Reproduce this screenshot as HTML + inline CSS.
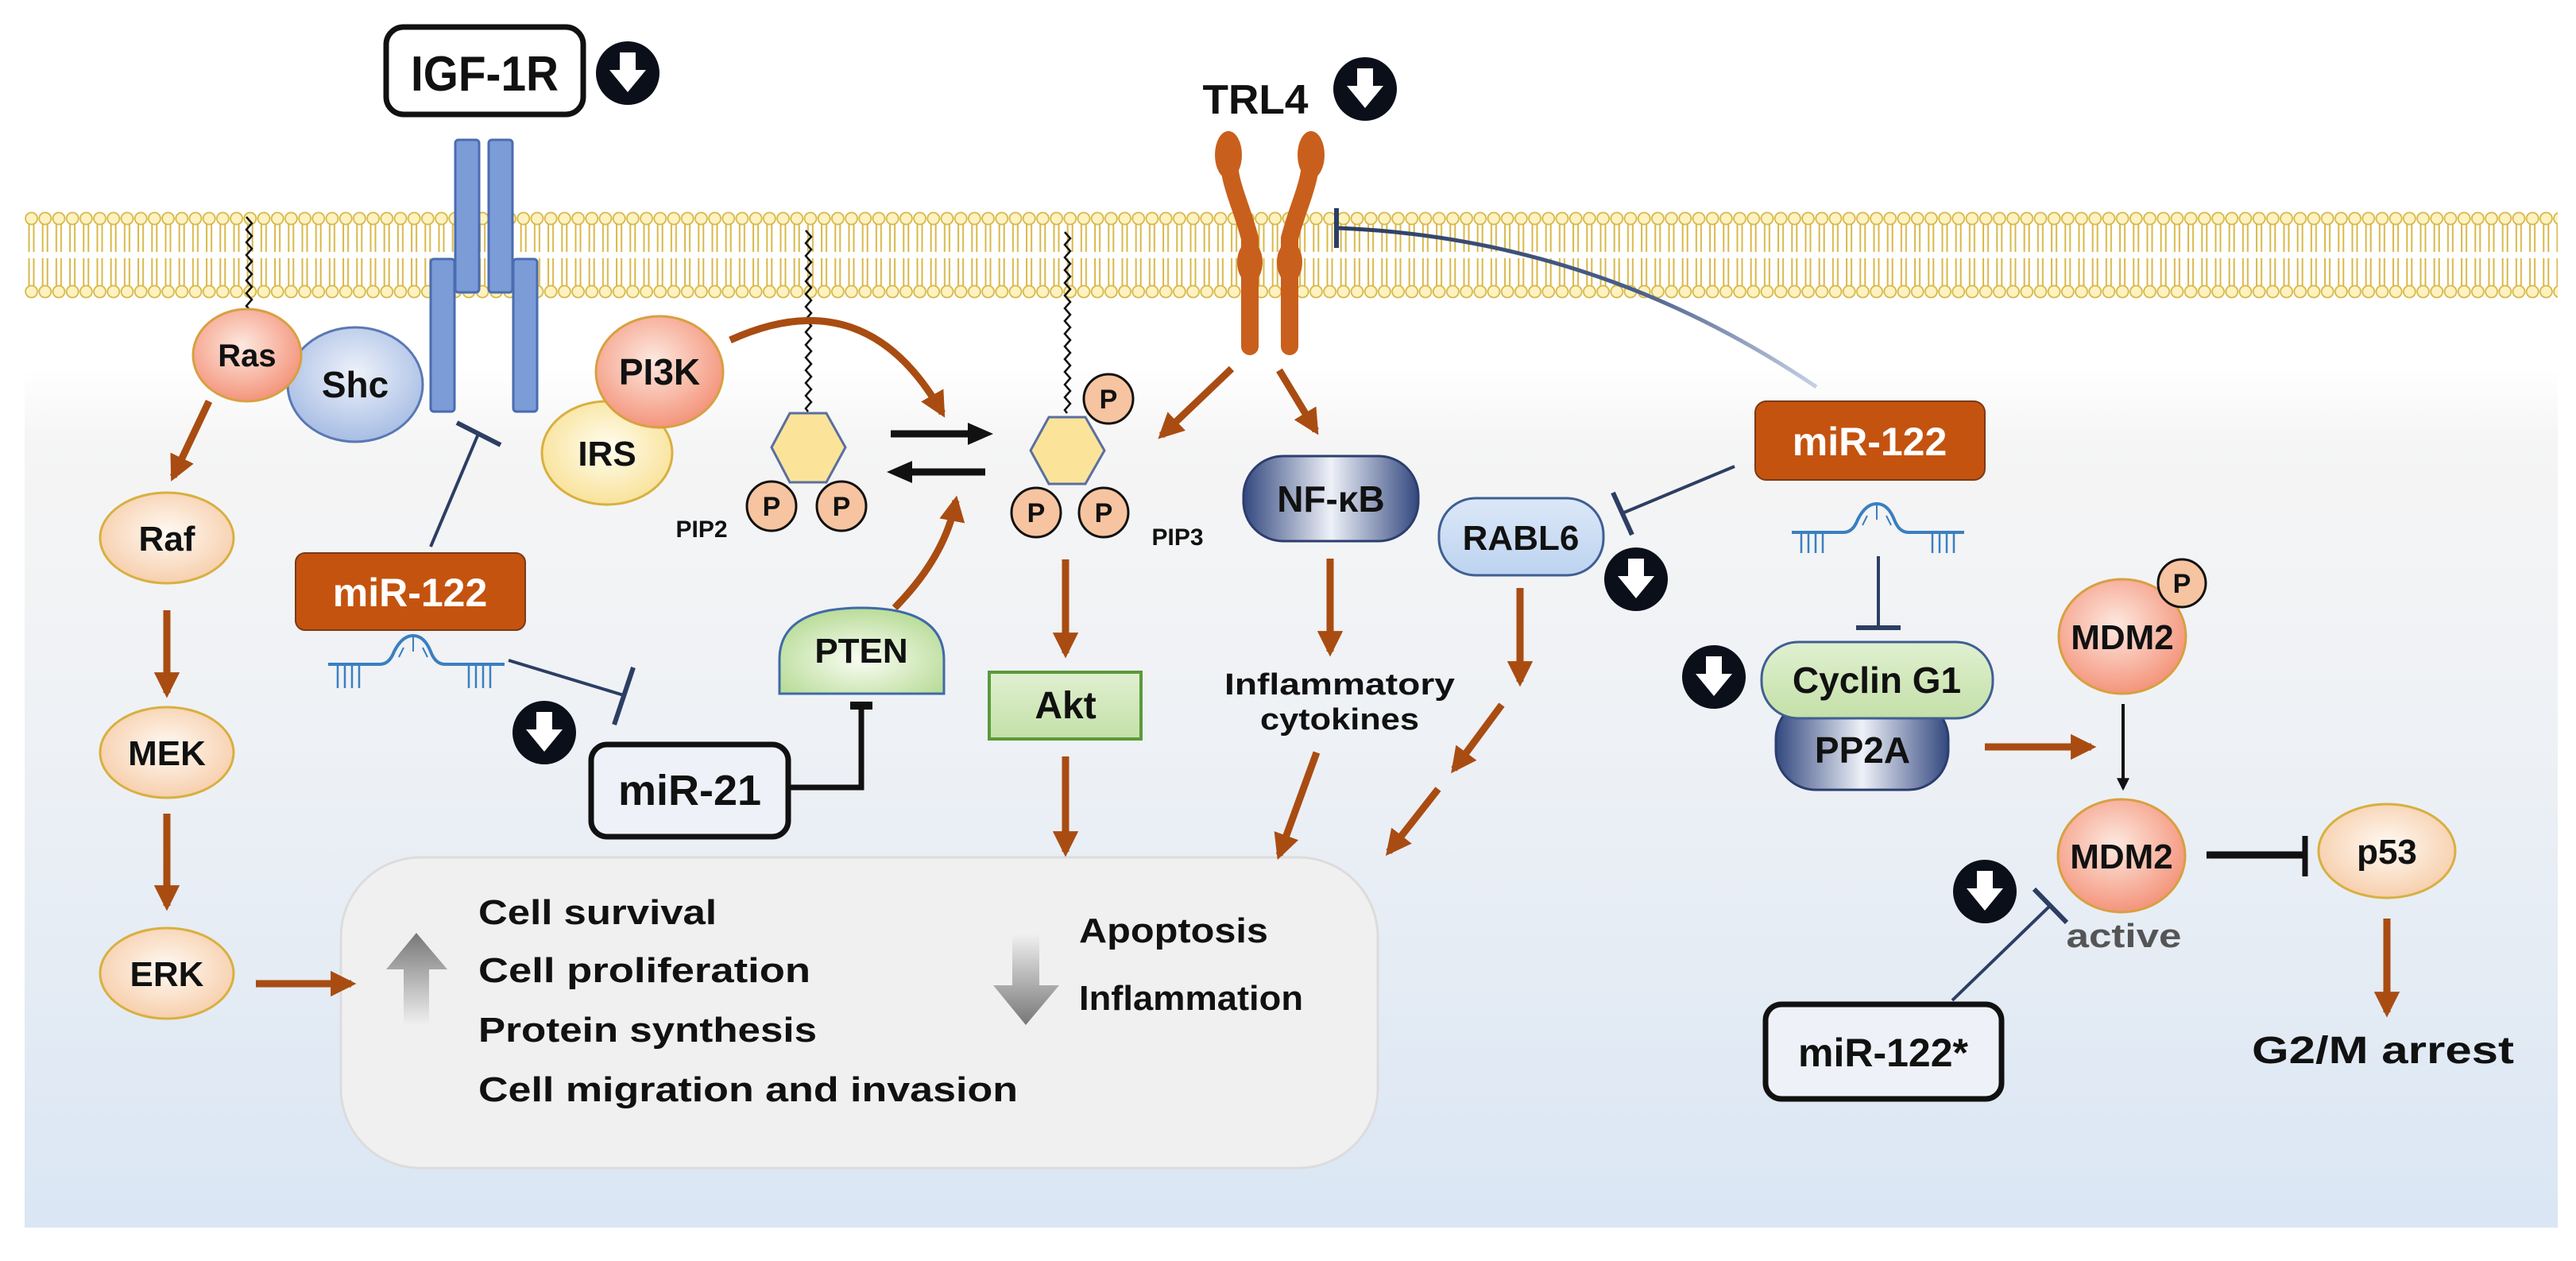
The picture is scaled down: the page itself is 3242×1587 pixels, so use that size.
<!DOCTYPE html>
<html><head><meta charset="utf-8"><style>
html,body{margin:0;padding:0;background:#fff}
svg{display:block}
text{font-family:"Liberation Sans",sans-serif;font-weight:bold;fill:#111}
</style></head><body>
<svg width="3242" height="1587" viewBox="0 0 3242 1587" xmlns="http://www.w3.org/2000/svg">
<defs>
<linearGradient id="bg" x1="0" y1="0" x2="0" y2="1">
<stop offset="0" stop-color="#fff"/><stop offset="0.3" stop-color="#fff"/><stop offset="0.36" stop-color="#f5f5f5"/><stop offset="0.6" stop-color="#eef1f5"/><stop offset="1" stop-color="#dae6f4"/></linearGradient>
<pattern id="lip" patternUnits="userSpaceOnUse" x="31" y="265" width="17.2" height="112">
<line x1="5.5" y1="17" x2="5.5" y2="52" stroke="#d8b848" stroke-width="2"/><line x1="11.5" y1="17" x2="11.5" y2="52" stroke="#d8b848" stroke-width="2"/>
<line x1="5.5" y1="60" x2="5.5" y2="95" stroke="#d8b848" stroke-width="2"/><line x1="11.5" y1="60" x2="11.5" y2="95" stroke="#d8b848" stroke-width="2"/>
<circle cx="8.6" cy="10" r="7.5" fill="#fdf2c0" stroke="#d8b848" stroke-width="1.8"/>
<circle cx="8.6" cy="102" r="7.5" fill="#fdf2c0" stroke="#d8b848" stroke-width="1.8"/>
</pattern>
<radialGradient id="salmon" cx="0.45" cy="0.4" r="0.6"><stop offset="0" stop-color="#fde9e0"/><stop offset="1" stop-color="#f4957c"/></radialGradient>
<radialGradient id="peach" cx="0.5" cy="0.45" r="0.6"><stop offset="0" stop-color="#fffaf4"/><stop offset="1" stop-color="#f6cba6"/></radialGradient>
<radialGradient id="blue" cx="0.5" cy="0.4" r="0.6"><stop offset="0" stop-color="#eef2fa"/><stop offset="1" stop-color="#a7bde4"/></radialGradient>
<radialGradient id="yel" cx="0.5" cy="0.45" r="0.6"><stop offset="0" stop-color="#fffdf0"/><stop offset="1" stop-color="#f8e092"/></radialGradient>
<linearGradient id="dblue" x1="0" y1="0" x2="1" y2="0"><stop offset="0" stop-color="#33487f"/><stop offset="0.5" stop-color="#eef1f8"/><stop offset="1" stop-color="#33487f"/></linearGradient>
<linearGradient id="lblue" x1="0" y1="0" x2="0" y2="1"><stop offset="0" stop-color="#dce8f8"/><stop offset="1" stop-color="#bcd3f0"/></linearGradient>
<linearGradient id="lgreen" x1="0" y1="0" x2="0" y2="1"><stop offset="0" stop-color="#e0f0d0"/><stop offset="1" stop-color="#c4e0a8"/></linearGradient>
<radialGradient id="pten" cx="0.5" cy="0.6" r="0.6"><stop offset="0" stop-color="#fafdf5"/><stop offset="1" stop-color="#b9dc98"/></radialGradient>
<linearGradient id="upg" x1="0" y1="0" x2="0" y2="1"><stop offset="0" stop-color="#777"/><stop offset="1" stop-color="#777" stop-opacity="0"/></linearGradient>
<linearGradient id="dng" x1="0" y1="1" x2="0" y2="0"><stop offset="0" stop-color="#777"/><stop offset="1" stop-color="#777" stop-opacity="0"/></linearGradient>
<linearGradient id="inhg" gradientUnits="userSpaceOnUse" x1="1690" y1="290" x2="2290" y2="490"><stop offset="0" stop-color="#2c3e63"/><stop offset="0.6" stop-color="#4a5f8a"/><stop offset="1" stop-color="#c8d3e6"/></linearGradient>
<marker id="ah" viewBox="0 0 10 10" refX="8" refY="5" markerWidth="3.6" markerHeight="3.6" orient="auto"><path d="M0,0 L10,5 L0,10 z" fill="#a94c12"/></marker>
<marker id="ahk" viewBox="0 0 10 10" refX="8" refY="5" markerWidth="4" markerHeight="4" orient="auto"><path d="M0,0 L10,5 L0,10 z" fill="#111"/></marker>
<g id="dn"><circle r="40" fill="#0b0f1a"/><path d="M-10,-26 h20 v22 h13 l-23,28 l-23,-28 h13z" fill="#fff"/></g>
</defs>

<rect x="31" y="0" width="3188" height="1545" fill="url(#bg)"/>
<rect x="31" y="265" width="3188" height="112" fill="url(#lip)"/>

<rect x="429" y="1079" width="1305" height="391" rx="100" fill="#f0f0f0" stroke="#dcdcdc" stroke-width="3"/>

<rect x="486" y="34" width="248" height="110" rx="22" fill="#fff" stroke="#111" stroke-width="7"/>
<text x="610" y="114" font-size="62" text-anchor="middle" textLength="186" lengthAdjust="spacingAndGlyphs">IGF-1R</text>
<use href="#dn" x="790" y="92"/>
<g fill="#7c9cd8" stroke="#4a6cb0" stroke-width="3">
<rect x="573" y="176" width="30" height="192" rx="4"/><rect x="615" y="176" width="30" height="192" rx="4"/>
<rect x="542" y="326" width="30" height="192" rx="4"/><rect x="646" y="326" width="30" height="192" rx="4"/>
</g>

<text x="1580" y="143" font-size="52" text-anchor="middle" textLength="133" lengthAdjust="spacingAndGlyphs">TRL4</text>
<use href="#dn" x="1718" y="112"/>
<g fill="none" stroke="#c95f1c" stroke-linecap="round">
<path d="M1546,182 C1544,230 1560,250 1573,300 L1573,436" stroke-width="22"/>
<path d="M1650,182 C1652,230 1636,250 1623,300 L1623,436" stroke-width="22"/>
</g>
<g fill="#c95f1c"><ellipse cx="1546" cy="195" rx="17" ry="30"/><ellipse cx="1650" cy="195" rx="17" ry="30"/><ellipse cx="1573" cy="330" rx="16" ry="26"/><ellipse cx="1623" cy="330" rx="16" ry="26"/></g>

<g fill="none" stroke="#111" stroke-width="2.5">
<path d="M310,273 l7,8 l-7,8 l7,8 l-7,8 l7,8 l-7,8 l7,8 l-7,8 l7,8 l-7,8 l7,8 l-7,8 l7,8 l-7,8 l7,8"/>
<path d="M1014,290 l7,8 l-7,8 l7,8 l-7,8 l7,8 l-7,8 l7,8 l-7,8 l7,8 l-7,8 l7,8 l-7,8 l7,8 l-7,8 l7,8 l-7,8 l7,8 l-7,8 l7,8 l-7,8 l7,8 l-7,8 l7,8 l-7,8 l7,8 l-7,8 l7,8 l-7,8 l3,4"/>
<path d="M1340,292 l7,8 l-7,8 l7,8 l-7,8 l7,8 l-7,8 l7,8 l-7,8 l7,8 l-7,8 l7,8 l-7,8 l7,8 l-7,8 l7,8 l-7,8 l7,8 l-7,8 l7,8 l-7,8 l7,8 l-7,8 l7,8 l-7,8 l7,8 l-7,8 l7,8 l-7,8 l3,4"/>
</g>

<ellipse cx="447" cy="484" rx="85" ry="72" fill="url(#blue)" stroke="#5a78b4" stroke-width="3"/>
<text x="447" y="500" font-size="46" text-anchor="middle">Shc</text>
<ellipse cx="311" cy="447" rx="68" ry="58" fill="url(#salmon)" stroke="#d8a040" stroke-width="3"/>
<text x="311" y="461" font-size="40" text-anchor="middle">Ras</text>

<g stroke="#a94c12" stroke-width="9" fill="none" marker-end="url(#ah)">
<line x1="263" y1="505" x2="218" y2="600"/>
<line x1="210" y1="768" x2="210" y2="872"/>
<line x1="210" y1="1024" x2="210" y2="1140"/>
<line x1="322" y1="1238" x2="442" y2="1238"/>
</g>
<g stroke="#d8b040" stroke-width="3">
<ellipse cx="210" cy="677" rx="84" ry="57" fill="url(#peach)"/>
<ellipse cx="210" cy="947" rx="84" ry="57" fill="url(#peach)"/>
<ellipse cx="210" cy="1225" rx="84" ry="57" fill="url(#peach)"/>
</g>
<text x="210" y="693" font-size="44" text-anchor="middle">Raf</text>
<text x="210" y="963" font-size="44" text-anchor="middle">MEK</text>
<text x="210" y="1241" font-size="44" text-anchor="middle">ERK</text>

<line x1="542" y1="688" x2="602" y2="546" stroke="#2c3e63" stroke-width="4"/>
<line x1="575" y1="532" x2="630" y2="560" stroke="#2c3e63" stroke-width="6"/>
<rect x="372" y="696" width="289" height="97" rx="12" fill="#c4530f" stroke="#7a3a18" stroke-width="2"/>
<text x="516" y="763" font-size="50" text-anchor="middle" style="fill:#fff">miR-122</text>
<g stroke="#3a7fc0" stroke-width="4" fill="none">
<path d="M413,836 H478 Q490,836 496,820 Q506,800 520,800 Q534,800 542,820 Q548,836 560,836 H635"/>
<path d="M425,836 v30 M434,836 v30 M443,836 v30 M452,836 v30 M590,836 v30 M599,836 v30 M608,836 v30 M617,836 v30" stroke-width="2.5"/>
<path d="M520,802 v18 M508,815 l-6,12 M532,815 l6,12" stroke-width="2"/>
</g>
<line x1="640" y1="831" x2="785" y2="875" stroke="#2c3e63" stroke-width="4"/>
<line x1="797" y1="840" x2="773" y2="912" stroke="#2c3e63" stroke-width="6"/>
<use href="#dn" x="685" y="922"/>
<rect x="744" y="937" width="248" height="116" rx="20" fill="#eef2f8" stroke="#111" stroke-width="7"/>
<text x="868" y="1013" font-size="54" text-anchor="middle">miR-21</text>
<path d="M992,991 H1084 V890" fill="none" stroke="#111" stroke-width="7"/>
<line x1="1070" y1="888" x2="1098" y2="888" stroke="#111" stroke-width="10"/>

<ellipse cx="764" cy="570" rx="82" ry="65" fill="url(#yel)" stroke="#d8b040" stroke-width="3"/>
<text x="764" y="586" font-size="44" text-anchor="middle">IRS</text>
<ellipse cx="830" cy="468" rx="80" ry="70" fill="url(#salmon)" stroke="#d8a040" stroke-width="3"/>
<text x="830" y="484" font-size="46" text-anchor="middle">PI3K</text>
<path d="M919,428 Q1090,350 1186,520" fill="none" stroke="#a94c12" stroke-width="9" marker-end="url(#ah)"/>

<polygon points="971,563 994,520 1040,520 1064,563 1040,607 994,607" fill="#fbe49a" stroke="#5a6fa0" stroke-width="3"/>
<polygon points="1297,567 1320,525 1366,525 1390,567 1366,609 1320,609" fill="#fbe49a" stroke="#5a6fa0" stroke-width="3"/>
<g fill="#f6c4a0" stroke="#111" stroke-width="3">
<circle cx="971" cy="637" r="31"/><circle cx="1059" cy="637" r="31"/>
<circle cx="1304" cy="645" r="31"/><circle cx="1389" cy="645" r="31"/><circle cx="1395" cy="502" r="31"/>
</g>
<g font-size="34" text-anchor="middle">
<text x="971" y="649">P</text><text x="1059" y="649">P</text><text x="1304" y="657">P</text><text x="1389" y="657">P</text><text x="1395" y="514">P</text>
</g>
<text x="883" y="676" font-size="30" text-anchor="middle">PIP2</text>
<text x="1482" y="686" font-size="30" text-anchor="middle">PIP3</text>
<g stroke="#111" stroke-width="9" fill="#111">
<line x1="1121" y1="546" x2="1222" y2="546"/><polygon points="1218,532 1250,546 1218,560" stroke="none"/>
<line x1="1146" y1="594" x2="1240" y2="594"/><polygon points="1148,580 1116,594 1148,608" stroke="none"/>
</g>
<path d="M1126,765 Q1190,700 1203,630" fill="none" stroke="#a94c12" stroke-width="9" marker-end="url(#ah)"/>

<path d="M981,873 V830 Q981,765 1084,765 Q1188,765 1188,830 V873 Z" fill="url(#pten)" stroke="#3f6aa8" stroke-width="3"/>
<text x="1084" y="834" font-size="44" text-anchor="middle">PTEN</text>
<rect x="1245" y="846" width="191" height="84" fill="url(#lgreen)" stroke="#5a9a3a" stroke-width="4"/>
<text x="1341" y="904" font-size="48" text-anchor="middle">Akt</text>
<g stroke="#a94c12" stroke-width="9" fill="none" marker-end="url(#ah)">
<line x1="1341" y1="704" x2="1341" y2="822"/>
<line x1="1341" y1="952" x2="1341" y2="1072"/>
<line x1="1550" y1="464" x2="1462" y2="548"/>
<line x1="1610" y1="466" x2="1656" y2="542"/>
<line x1="1674" y1="703" x2="1674" y2="820"/>
<line x1="1913" y1="740" x2="1913" y2="858"/>
<line x1="1890" y1="887" x2="1830" y2="968"/>
<line x1="1810" y1="993" x2="1748" y2="1072"/>
<line x1="1657" y1="947" x2="1610" y2="1076"/>
<line x1="2498" y1="940" x2="2632" y2="940"/>
<line x1="3004" y1="1156" x2="3004" y2="1274"/>
</g>

<rect x="1565" y="574" width="220" height="107" rx="50" fill="url(#dblue)" stroke="#2c3e6e" stroke-width="3"/>
<text x="1675" y="644" font-size="46" text-anchor="middle">NF-κB</text>
<rect x="1811" y="627" width="207" height="97" rx="46" fill="url(#lblue)" stroke="#3f5f92" stroke-width="3"/>
<text x="1914" y="692" font-size="44" text-anchor="middle">RABL6</text>
<use href="#dn" x="2059" y="729"/>
<text x="1686" y="874" font-size="38" text-anchor="middle" textLength="290" lengthAdjust="spacingAndGlyphs">Inflammatory</text>
<text x="1686" y="918" font-size="38" text-anchor="middle" textLength="200" lengthAdjust="spacingAndGlyphs">cytokines</text>

<path d="M2286,487 Q2010,300 1684,287" fill="none" stroke="url(#inhg)" stroke-width="5"/>
<line x1="1682" y1="262" x2="1682" y2="312" stroke="#2c3e63" stroke-width="6"/>
<rect x="2209" y="505" width="289" height="99" rx="14" fill="#c4530f" stroke="#7a3a18" stroke-width="2"/>
<text x="2353" y="573" font-size="50" text-anchor="middle" style="fill:#fff">miR-122</text>
<line x1="2183" y1="587" x2="2044" y2="645" stroke="#2c3e63" stroke-width="4"/>
<line x1="2030" y1="620" x2="2054" y2="673" stroke="#2c3e63" stroke-width="6"/>
<g stroke="#3a7fc0" stroke-width="4" fill="none">
<path d="M2255,670 H2320 Q2332,670 2338,654 Q2348,634 2362,634 Q2376,634 2384,654 Q2390,670 2402,670 H2472"/>
<path d="M2267,670 v26 M2276,670 v26 M2285,670 v26 M2294,670 v26 M2432,670 v26 M2441,670 v26 M2450,670 v26 M2459,670 v26" stroke-width="2.5"/>
<path d="M2362,636 v18 M2350,649 l-6,12 M2374,649 l6,12" stroke-width="2"/>
</g>
<line x1="2364" y1="700" x2="2364" y2="788" stroke="#2c3e63" stroke-width="4"/>
<line x1="2336" y1="790" x2="2392" y2="790" stroke="#2c3e63" stroke-width="6"/>

<rect x="2235" y="880" width="217" height="114" rx="50" fill="url(#dblue)" stroke="#2c3e6e" stroke-width="3"/>
<text x="2344" y="960" font-size="46" text-anchor="middle">PP2A</text>
<rect x="2217" y="808" width="291" height="96" rx="46" fill="url(#lgreen)" stroke="#3f5f92" stroke-width="3"/>
<text x="2362" y="872" font-size="46" text-anchor="middle">Cyclin G1</text>
<use href="#dn" x="2157" y="852"/>

<ellipse cx="2671" cy="801" rx="80" ry="72" fill="url(#salmon)" stroke="#d8a040" stroke-width="3"/>
<text x="2671" y="817" font-size="44" text-anchor="middle">MDM2</text>
<circle cx="2746" cy="734" r="30" fill="#f6c4a0" stroke="#111" stroke-width="3"/>
<text x="2746" y="746" font-size="34" text-anchor="middle">P</text>
<line x1="2672" y1="886" x2="2672" y2="992" stroke="#111" stroke-width="4" marker-end="url(#ahk)"/>
<ellipse cx="2670" cy="1077" rx="80" ry="71" fill="url(#salmon)" stroke="#d8a040" stroke-width="3"/>
<text x="2670" y="1093" font-size="44" text-anchor="middle">MDM2</text>
<line x1="2777" y1="1076" x2="2899" y2="1076" stroke="#111" stroke-width="9"/>
<line x1="2901" y1="1052" x2="2901" y2="1103" stroke="#111" stroke-width="7"/>
<ellipse cx="3004" cy="1071" rx="86" ry="59" fill="url(#peach)" stroke="#d8b040" stroke-width="3"/>
<text x="3004" y="1087" font-size="44" text-anchor="middle">p53</text>
<text x="2999" y="1338" font-size="48" text-anchor="middle" textLength="330" lengthAdjust="spacingAndGlyphs">G2/M arrest</text>
<text x="2673" y="1192" font-size="42" text-anchor="middle" style="fill:#555" textLength="145" lengthAdjust="spacingAndGlyphs">active</text>
<use href="#dn" x="2498" y="1122"/>
<line x1="2457" y1="1259" x2="2580" y2="1140" stroke="#2c3e63" stroke-width="4"/>
<line x1="2560" y1="1119" x2="2601" y2="1161" stroke="#2c3e63" stroke-width="6"/>
<rect x="2222" y="1264" width="297" height="119" rx="20" fill="#eef2f8" stroke="#111" stroke-width="7"/>
<text x="2370" y="1342" font-size="50" text-anchor="middle">miR-122*</text>

<polygon points="524,1174 486,1220 508,1220 508,1290 540,1290 540,1220 563,1220" fill="url(#upg)"/>
<polygon points="1291,1290 1250,1240 1274,1240 1274,1176 1308,1176 1308,1240 1333,1240" fill="url(#dng)"/>
<g font-size="44">
<text x="602" y="1163" textLength="300" lengthAdjust="spacingAndGlyphs">Cell survival</text>
<text x="602" y="1236" textLength="418" lengthAdjust="spacingAndGlyphs">Cell proliferation</text>
<text x="602" y="1311" textLength="426" lengthAdjust="spacingAndGlyphs">Protein synthesis</text>
<text x="602" y="1386" textLength="679" lengthAdjust="spacingAndGlyphs">Cell migration and invasion</text>
<text x="1358" y="1186" textLength="238" lengthAdjust="spacingAndGlyphs">Apoptosis</text>
<text x="1358" y="1271" textLength="282" lengthAdjust="spacingAndGlyphs">Inflammation</text>
</g>
</svg>
</body></html>
